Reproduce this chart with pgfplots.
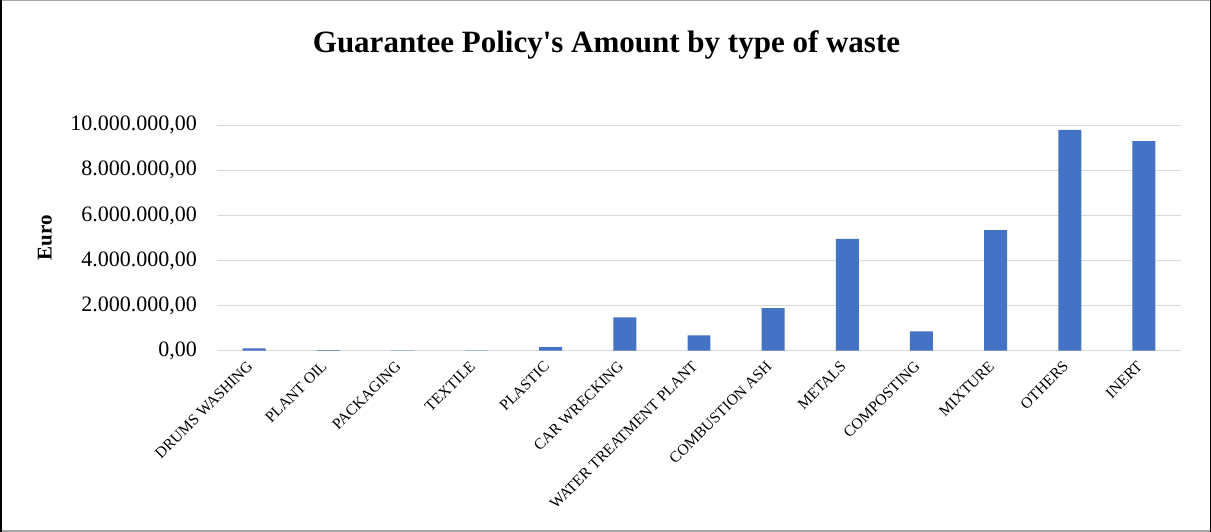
\documentclass[border=0pt]{standalone}
\usepackage{pgfplots}
\pgfplotsset{compat=1.18}
\usepackage{fontspec}
\setmainfont{Liberation Serif}
\definecolor{barblue}{HTML}{4472C4}
\definecolor{gridgray}{HTML}{D9D9D9}
\definecolor{framegray}{HTML}{A6A6A6}
\begin{document}
\begin{tikzpicture}[x=1pt,y=1pt]
\path[use as bounding box] (0,0) rectangle (1211,532);
\fill[white] (0,0) rectangle (1211,532);
\begin{axis}[
  at={(217pt,181.3pt)}, anchor=south west,
  scale only axis, width=964pt, height=225.4pt,
  xmin=-0.5, xmax=12.5, ymin=0, ymax=10000000,
  ybar, bar width=0.31,
  axis x line*=bottom, axis y line*=left,
  y axis line style={draw=none},
  x axis line style={gridgray, line width=1.5pt, -},
  major tick length=0pt,
  ytick={0,2000000,4000000,6000000,8000000,10000000},
  yticklabels={{0,00},{2.000.000,00},{4.000.000,00},{6.000.000,00},{8.000.000,00},{10.000.000,00}},
  scaled y ticks=false,
  ymajorgrids, grid style={gridgray, line width=1.3pt},
  xtick={0,...,12},
  xticklabels={DRUMS WASHING, PLANT OIL, PACKAGING, TEXTILE, PLASTIC, CAR WRECKING, WATER TREATMENT PLANT, COMBUSTION ASH, METALS, COMPOSTING, MIXTURE, OTHERS, INERT},
  yticklabel style={font=\fontsize{22}{24}\selectfont, inner sep=0pt, anchor=east, xshift=-20pt},
  xticklabel style={font=\fontsize{15.5}{17}\selectfont, inner sep=0pt, xshift=-4pt, yshift=-13pt, anchor=east, rotate=45},
  clip=false,
]
\addplot[fill=barblue, draw=none] coordinates {
  (0,100000) (1,20000) (2,10000) (3,10000) (4,160000)
  (5,1480000) (6,680000) (7,1890000) (8,4960000) (9,860000)
  (10,5350000) (11,9800000) (12,9300000)
};
\end{axis}
\node at (606.5,487) {\fontsize{31}{36}\selectfont\bfseries Guarantee Policy\textquotesingle s Amount by type of waste};
\node[rotate=90] at (45,294) {\fontsize{21}{24}\selectfont\bfseries Euro};
\draw[framegray, line width=1.5pt] (0.75,0.75) rectangle (1210.25,531.25);
\draw[black, line width=1.5pt] (0.75,0) -- (0.75,532);
\draw[black, line width=1.5pt] (1210.25,0) -- (1210.25,532);
\end{tikzpicture}
\end{document}
